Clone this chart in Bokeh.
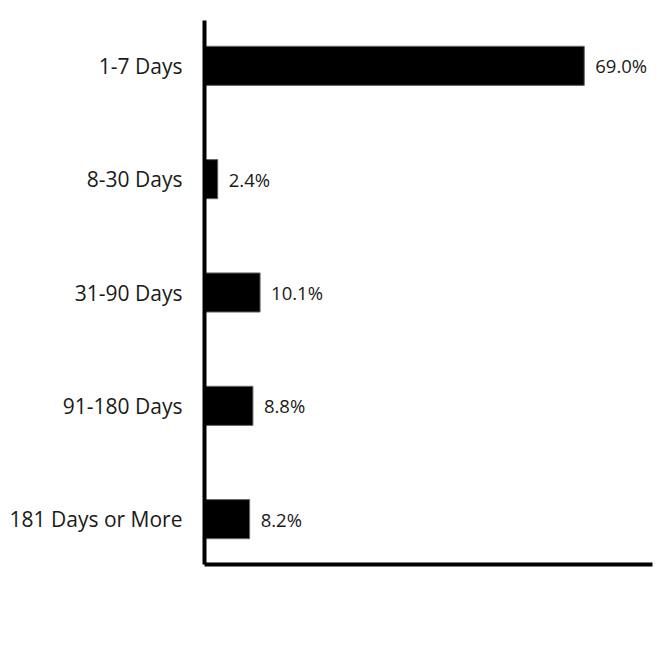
from bokeh.plotting import figure
from bokeh.models import ColumnDataSource, FactorRange, LabelSet
from bokeh.embed import file_html
from bokeh.resources import INLINE
from bokeh.core.properties import value

categories = ["1-7 Days", "8-30 Days", "31-90 Days", "91-180 Days", "181 Days or More"]
values = [69.0, 2.4, 10.1, 8.8, 8.2]
labels = ["69.0%", "2.4%", "10.1%", "8.8%", "8.2%"]

FONT = "Open Sans"

source = ColumnDataSource(dict(cat=categories, val=values, lab=labels))

p = figure(
    width=664, height=630,
    y_range=FactorRange(factors=list(reversed(categories)), range_padding=-0.04),
    x_range=(0, 81.4),
    output_backend="svg", toolbar_location=None,
    min_border_left=204, min_border_top=20, min_border_right=12, min_border_bottom=66,
)

p.hbar(y="cat", right="val", left=0, height=0.345, source=source,
       fill_color="black", line_color="#666666", line_width=1)

lbl = LabelSet(x="val", y="cat", text="lab", source=source, x_offset=11,
               text_baseline="middle", text_align="left",
               text_font=value(FONT), text_font_size="18.5px", text_color="#1a1a1a")
p.add_layout(lbl)

p.outline_line_color = None
p.xgrid.grid_line_color = None
p.ygrid.grid_line_color = None

p.xaxis.axis_line_width = 4
p.xaxis.axis_line_color = "black"
p.xaxis.major_tick_line_color = None
p.xaxis.minor_tick_line_color = None
p.xaxis.major_label_text_font_size = "0px"
p.xaxis.major_label_text_color = None

p.yaxis.axis_line_width = 4
p.yaxis.axis_line_color = "black"
p.yaxis.major_tick_line_color = None
p.yaxis.minor_tick_line_color = None
p.yaxis.major_label_standoff = 16
p.yaxis.major_label_text_font = FONT
p.yaxis.major_label_text_font_size = "21px"
p.yaxis.major_label_text_color = "#1a1a1a"

open("out.html", "w").write(file_html(p, INLINE))
